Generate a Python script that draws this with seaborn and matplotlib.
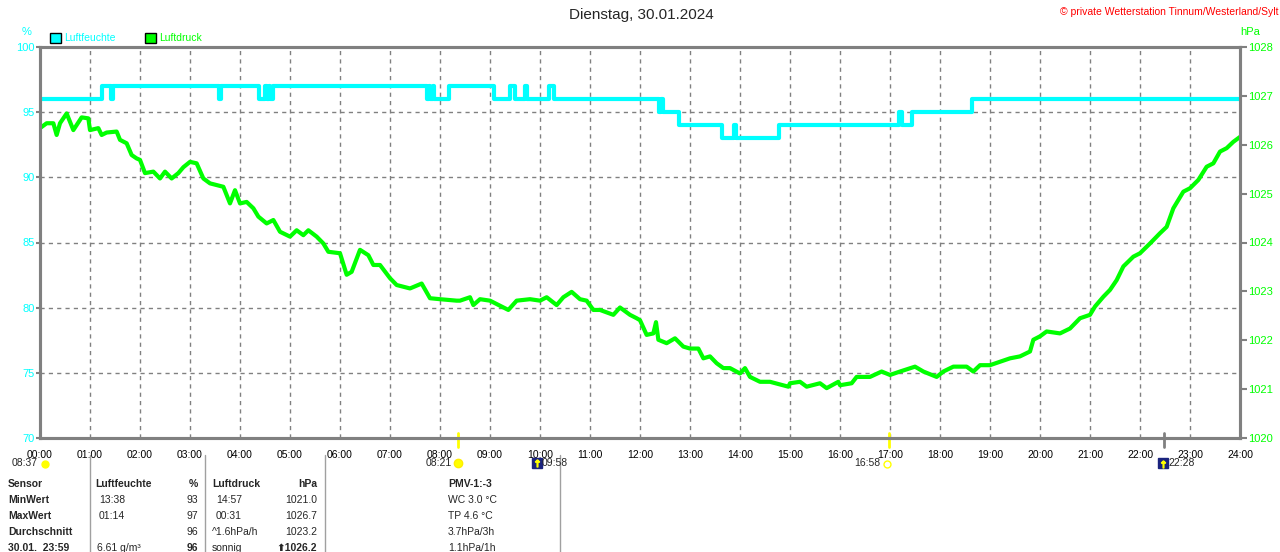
import numpy as np
import pandas as pd
import seaborn as sns
import matplotlib.pyplot as plt
from matplotlib.lines import Line2D
from matplotlib.patches import Rectangle

# Luftfeuchte (%) - Stufenwerte, Zeitpunkt der Änderung in Stunden
hum_hours = [0.0, 1.23, 1.42, 1.45, 3.57, 3.62, 4.37, 4.50, 4.53, 4.58, 4.60, 4.65,
             7.73, 7.77, 7.80, 7.85, 7.88, 8.17, 9.07, 9.40, 9.50, 9.70, 9.73,
             10.18, 10.27, 12.37, 12.42, 12.45, 12.77, 13.63, 13.88, 13.92, 14.77,
             17.17, 17.23, 17.43, 18.63, 24.0]
hum_values = [96, 97, 96, 97, 96, 97, 96, 97, 96, 97, 96, 97,
              96, 97, 96, 97, 96, 97, 96, 97, 96, 97, 96,
              97, 96, 95, 96, 95, 94, 93, 94, 93, 94,
              95, 94, 95, 96, 96]

# Luftdruck (hPa)
press_hours = [0.0, 0.133, 0.267, 0.333, 0.4, 0.533, 0.667, 0.833, 0.967, 1.0, 1.167, 1.233,
               1.333, 1.533, 1.6, 1.733, 1.833, 1.933, 2.0, 2.1, 2.267, 2.4, 2.5, 2.633,
               2.767, 2.867, 3.0, 3.133, 3.267, 3.4, 3.667, 3.8, 3.9, 4.0, 4.133, 4.267,
               4.367, 4.533, 4.667, 4.8, 5.0, 5.133, 5.267, 5.367, 5.533, 5.667, 5.767,
               6.0, 6.133, 6.233, 6.4, 6.567, 6.667, 6.8, 7.0, 7.133, 7.4, 7.633, 7.8,
               8.0, 8.333, 8.4, 8.6, 8.667, 8.8, 9.0, 9.367, 9.533, 9.8, 10.0, 10.133,
               10.333, 10.467, 10.633, 10.8, 10.933, 11.067, 11.2, 11.467, 11.6, 11.8,
               11.933, 12.0, 12.133, 12.267, 12.32, 12.367, 12.533, 12.7, 12.867, 13.0,
               13.167, 13.267, 13.4, 13.533, 13.667, 13.8, 14.0, 14.1, 14.2, 14.4, 14.6,
               14.967, 15.0, 15.2, 15.333, 15.6, 15.733, 15.967, 16.0, 16.233, 16.333,
               16.6, 16.833, 17.0, 17.2, 17.5, 17.667, 17.933, 18.067, 18.267, 18.533,
               18.667, 18.8, 19.0, 19.2, 19.4, 19.6, 19.8, 19.867, 20.0, 20.133, 20.4,
               20.6, 20.8, 21.0, 21.1, 21.267, 21.4, 21.533, 21.667, 21.867, 22.0, 22.2,
               22.4, 22.533, 22.667, 22.867, 23.0, 23.167, 23.333, 23.467, 23.6, 23.733,
               23.867, 24.0]
press_values = [1026.34, 1026.44, 1026.44, 1026.20, 1026.44, 1026.64, 1026.30, 1026.56, 1026.54,
                1026.30, 1026.34, 1026.20, 1026.25, 1026.27, 1026.10, 1026.03, 1025.79, 1025.72,
                1025.69, 1025.42, 1025.45, 1025.31, 1025.45, 1025.31, 1025.42, 1025.54, 1025.65,
                1025.62, 1025.31, 1025.21, 1025.14, 1024.80, 1025.07, 1024.80, 1024.83, 1024.70,
                1024.53, 1024.39, 1024.46, 1024.22, 1024.12, 1024.25, 1024.15, 1024.25, 1024.12,
                1023.98, 1023.81, 1023.78, 1023.34, 1023.40, 1023.85, 1023.74, 1023.54, 1023.54,
                1023.27, 1023.13, 1023.06, 1023.16, 1022.86, 1022.84, 1022.81, 1022.81, 1022.88,
                1022.72, 1022.84, 1022.81, 1022.62, 1022.81, 1022.84, 1022.81, 1022.88, 1022.72,
                1022.88, 1022.99, 1022.84, 1022.81, 1022.62, 1022.62, 1022.52, 1022.67, 1022.52,
                1022.45, 1022.41, 1022.11, 1022.14, 1022.37, 1022.01, 1021.94, 1022.04, 1021.87,
                1021.83, 1021.83, 1021.63, 1021.67, 1021.53, 1021.43, 1021.43, 1021.32, 1021.43,
                1021.25, 1021.15, 1021.15, 1021.05, 1021.12, 1021.15, 1021.05, 1021.12, 1021.02,
                1021.15, 1021.08, 1021.12, 1021.25, 1021.25, 1021.36, 1021.29, 1021.36, 1021.46,
                1021.36, 1021.25, 1021.36, 1021.46, 1021.46, 1021.36, 1021.49, 1021.49, 1021.56,
                1021.63, 1021.67, 1021.77, 1022.01, 1022.08, 1022.18, 1022.14, 1022.24, 1022.45,
                1022.52, 1022.69, 1022.89, 1023.03, 1023.23, 1023.51, 1023.71, 1023.78, 1023.98,
                1024.19, 1024.32, 1024.70, 1025.04, 1025.11, 1025.28, 1025.55, 1025.62, 1025.86,
                1025.93, 1026.06, 1026.16]

hour_labels = [f"{h:02d}:00" for h in range(25)]

# Tabelle unter dem Diagramm
table_rows = [
    ("MinWert", "13:38", "93", "14:57", "1021.0", "WC 3.0 °C"),
    ("MaxWert", "01:14", "97", "00:31", "1026.7", "TP 4.6 °C"),
    ("Durchschnitt", "", "96", "^1.6hPa/h", "1023.2", "3.7hPa/3h"),
    ("30.01.  23:59", "6.61 g/m³", "96", "sonnig", "⬆1026.2", "1.1hPa/1h"),
]

CYAN = "#00ffff"
GREEN = "#00ff00"
GRAY = "#808080"

sns.set_style("white")
plt.rcParams['font.family'] = ['Liberation Sans', 'DejaVu Sans']

W, H = 1280, 552


def px(x, y):
    return x / W, 1 - y / H


def dot(x, y, **kw):
    fx, fy = px(x, y)
    fig.add_artist(Line2D([fx], [fy], transform=fig.transFigure, linestyle='none', **kw))


fig = plt.figure(figsize=(12.8, 5.52), dpi=100)
ax = fig.add_axes([40 / W, 1 - 438 / H, 1200 / W, 391 / H])
ax2 = ax.twinx()

df_h = pd.DataFrame({'Stunde': hum_hours, 'Luftfeuchte': hum_values})
df_p = pd.DataFrame({'Stunde': press_hours, 'Luftdruck': press_values})

sns.lineplot(data=df_h, x='Stunde', y='Luftfeuchte', ax=ax, color=CYAN,
             linewidth=3, drawstyle='steps-post')
sns.lineplot(data=df_p, x='Stunde', y='Luftdruck', ax=ax2, color=GREEN,
             linewidth=3)

ax.set_xlim(0, 24)
ax.set_ylim(70, 100)
ax2.set_ylim(1020, 1028)
ax.set_xticks(range(25))
ax.set_xticklabels(hour_labels, fontsize=7.5)
ax.set_yticks(range(70, 101, 5))
ax2.set_yticks(range(1020, 1029))
ax.set_xlabel('')
ax.set_ylabel('')
ax2.set_ylabel('')

ax.tick_params(axis='y', labelcolor=CYAN, color=GRAY, labelsize=8, length=3, width=1.5, pad=1)
ax.tick_params(axis='x', labelcolor='black', length=0, pad=9)
ax2.tick_params(axis='y', labelcolor=GREEN, color=GRAY, labelsize=8, length=5, width=1.5, pad=1)

ax.grid(True, linestyle=(0, (3, 3)), color=GRAY, linewidth=1)
ax2.grid(False)
for a in (ax, ax2):
    for s in a.spines.values():
        s.set_color(GRAY)
        s.set_linewidth(2.2)
        s.set_visible(True)

# Markierungen an der Zeitachse
trans = ax.get_xaxis_transform()
for t, c in [(8.35, '#ffff00'), (16.97, '#ffff00'), (22.47, GRAY)]:
    ax.plot([t, t], [0.013, -0.024], color=c, lw=2, transform=trans, clip_on=False)

# Titel und Beschriftungen
fig.text(*px(641, 15), "Dienstag, 30.01.2024", ha='center', va='center', fontsize=11)
fig.text(*px(1278, 12), "© private Wetterstation Tinnum/Westerland/Sylt", ha='right',
         va='center', fontsize=7.5, color='red')
fig.text(*px(27, 32), "%", ha='center', va='center', fontsize=8, color=CYAN)
fig.text(*px(1240, 32), "hPa", ha='left', va='center', fontsize=8, color=GREEN)

# Legende
for x0, col, lab in [(50, CYAN, "Luftfeuchte"), (145, GREEN, "Luftdruck")]:
    fig.add_artist(Rectangle(px(x0, 43), 11 / W, 10 / H, transform=fig.transFigure,
                             facecolor=col, edgecolor='black', lw=1))
    fig.text(*px(x0 + 14, 38), lab, ha='left', va='center', fontsize=7.5, color=col)

# Sonne / Mond Zeiten
fig.text(*px(38, 463), "08:37", ha='right', va='center', fontsize=7.5)
dot(45, 464, marker='o', markersize=5, color='#ffff00')
fig.text(*px(452, 463), "08:21", ha='right', va='center', fontsize=7.5)
dot(458, 463, marker='o', markersize=6, markerfacecolor='#ffff00', markeredgecolor='#ffee00')
dot(537, 463, marker='s', markersize=7, color='#1a237e')
dot(537, 463, marker='$\u2191$', markersize=5, color='#ffff00')
fig.text(*px(542, 463), "09:58", ha='left', va='center', fontsize=7.5)
fig.text(*px(880, 463), "16:58", ha='right', va='center', fontsize=7.5)
dot(887, 464, marker='o', markersize=5, markerfacecolor='none', markeredgecolor='#ffff00')
dot(1163, 463, marker='s', markersize=7, color='#1a237e')
dot(1163, 464, marker='$\u2191$', markersize=5, color='#ffff00')
fig.text(*px(1168, 463), "22:28", ha='left', va='center', fontsize=7.5)

# Tabelle
for x in (90, 205, 325, 560):
    fig.add_artist(Line2D([x / W, x / W], [1 - 455 / H, 0], transform=fig.transFigure,
                          color='#a0a0a0', lw=1))

fs = 7.5
y0 = 484
fig.text(*px(8, y0), "Sensor", fontsize=fs, weight='bold', va='center')
fig.text(*px(95, y0), "Luftfeuchte", fontsize=fs, weight='bold', va='center')
fig.text(*px(198, y0), "%", fontsize=fs, weight='bold', va='center', ha='right')
fig.text(*px(212, y0), "Luftdruck", fontsize=fs, weight='bold', va='center')
fig.text(*px(317, y0), "hPa", fontsize=fs, weight='bold', va='center', ha='right')
fig.text(*px(448, y0), "PMV-1:-3", fontsize=fs, weight='bold', va='center')

for i, row in enumerate(table_rows):
    y = y0 + 16 * (i + 1)
    last = i == len(table_rows) - 1
    fig.text(*px(8, y), row[0], fontsize=fs, weight='bold', va='center')
    fig.text(*px(99 if not last else 97, y), row[1], fontsize=fs, va='center')
    fig.text(*px(198, y), row[2], fontsize=fs, va='center', ha='right',
             weight='bold' if last else 'normal')
    fig.text(*px(216 if i < 2 else 212, y), row[3], fontsize=fs, va='center')
    fig.text(*px(317, y), row[4], fontsize=fs, va='center', ha='right',
             weight='bold' if last else 'normal')
    fig.text(*px(448, y), row[5], fontsize=fs, va='center')

fig.savefig("out.png", dpi=100)
